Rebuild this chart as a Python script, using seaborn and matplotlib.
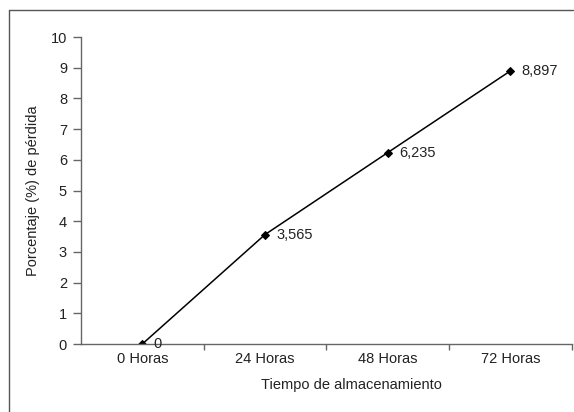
import pandas as pd
import matplotlib.pyplot as plt
import seaborn as sns
from matplotlib.lines import Line2D

# Data
categorias = ["0 Horas", "24 Horas", "48 Horas", "72 Horas"]
perdida = [0, 3.565, 6.235, 8.897]
etiquetas = ["0", "3,565", "6,235", "8,897"]

df = pd.DataFrame({"tiempo": categorias, "perdida": perdida})

sns.set_style("white")
plt.rcParams["font.family"] = ["Liberation Sans", "DejaVu Sans"]

fig = plt.figure(figsize=(5.74, 4.12), dpi=100)
ax = fig.add_axes([0.141, 0.165, 0.855, 0.745])

sns.lineplot(data=df, x="tiempo", y="perdida", ax=ax, color="black",
             linewidth=1.1, marker="D", markersize=4.5, markeredgecolor="black",
             sort=False)

for i, (v, t) in enumerate(zip(perdida, etiquetas)):
    ax.annotate(t, (i, v), xytext=(8, 0), textcoords="offset points",
                va="center", ha="left", fontsize=10.5, color="#222222")

ax.set_xlim(-0.5, len(categorias) - 0.5)
ax.set_ylim(0, 10)
ax.set_yticks(range(0, 11))
ax.set_xticks(range(len(categorias)))
ax.set_xticklabels(categorias)

# category ticks go on the boundaries
ax.set_xticks([i + 0.5 for i in range(len(categorias))], minor=True)
ax.tick_params(axis="x", which="major", bottom=True, length=0, pad=6,
               labelsize=10.5, labelcolor="#222222")
ax.tick_params(axis="x", which="minor", bottom=True, length=4, width=1,
               color="#666666", direction="out")
ax.tick_params(axis="y", left=True, length=6, width=1, color="#666666",
               labelsize=10.5, labelcolor="#222222", pad=4, direction="out")

ax.spines["top"].set_visible(False)
ax.spines["right"].set_visible(False)
for s in ["left", "bottom"]:
    ax.spines[s].set_color("#666666")
    ax.spines[s].set_linewidth(1)

ax.set_xlabel("Tiempo de almacenamiento", fontsize=10.5, color="#222222")
ax.xaxis.set_label_coords(0.552, -0.11)
ax.set_ylabel("Porcentaje (%) de pérdida", fontsize=10.5, color="#222222", labelpad=8)

# outer frame (top and left only visible)
fig.add_artist(Line2D([0.016, 0.998], [0.976, 0.976], color="#555555", lw=1))
fig.add_artist(Line2D([0.016, 0.016], [0.0, 0.976], color="#555555", lw=1))

fig.savefig("out.png", dpi=100)
